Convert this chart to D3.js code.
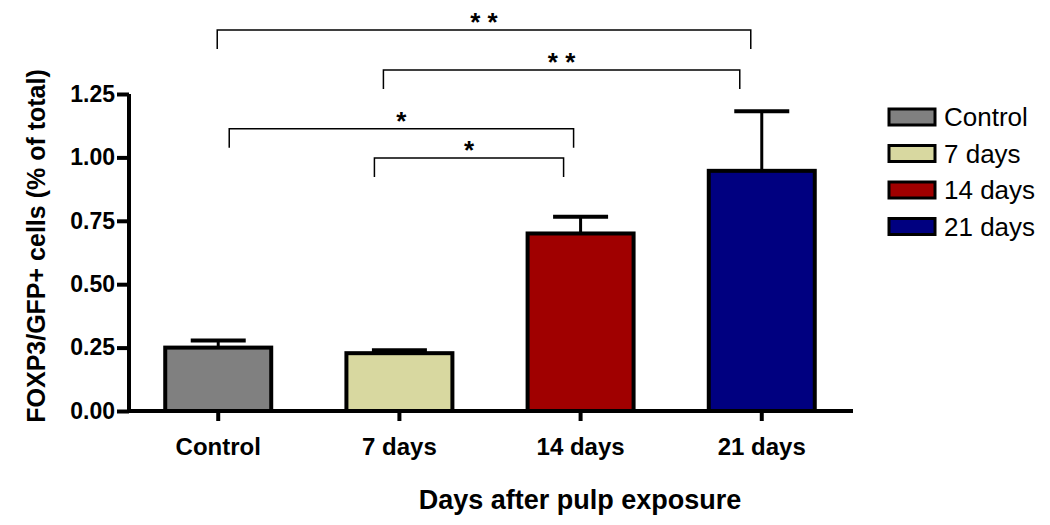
<!DOCTYPE html>
<html>
<head>
<meta charset="utf-8">
<script src="https://cdn.jsdelivr.net/npm/d3@7"></script>
<style>
  body { margin: 0; background: #fff; }
  text { font-family: Arial, "Liberation Sans", sans-serif; }
</style>
</head>
<body>
<svg id="chart"></svg>
<script>
// data
const groups = ['Control', '7 days', '14 days', '21 days']
const means = [0.25, 0.228, 0.70, 0.947]
const errs = [0.028, 0.012, 0.066, 0.235]
const colors = ['#808080', '#d8d8a0', '#a00000', '#000080']
const yTicks = [0, 0.25, 0.5, 0.75, 1.0, 1.25]
// significance brackets: from, to, level (data units), label
const bracketFrom = ['Control', '7 days', 'Control', '7 days']
const bracketTo = ['21 days', '21 days', '14 days', '14 days']
const bracketLevel = [1.502, 1.345, 1.113, 0.998]
const bracketLabel = ['* *', '* *', '*', '*']
// small horizontal offsets of bracket ends from bar centres
const bracketOff = [[-1, -11], [-16, -22], [11, -7], [-25, -17]]

const width = 1050, height = 525
const svg = d3.select('#chart').attr('width', width).attr('height', height)

const x = d3.scaleBand()
  .domain(groups)
  .range([129, 851])
  .paddingInner(0.415)
  .paddingOuter(0.2)
const y = d3.scaleLinear().domain([0, 1.25]).range([411, 94])

const cx = g => x(g) + x.bandwidth() / 2

// bars
svg.selectAll('.bar')
  .data(groups)
  .enter()
  .append('rect')
  .attr('class', 'bar')
  .attr('x', d => x(d))
  .attr('y', (d, i) => y(means[i]))
  .attr('width', x.bandwidth())
  .attr('height', (d, i) => y(0) - y(means[i]))
  .attr('fill', (d, i) => colors[i])
  .attr('stroke', '#000')
  .attr('stroke-width', 4)

// error bars (upper only)
const capW = 55
groups.forEach((g, i) => {
  svg.append('line')
    .attr('x1', cx(g)).attr('x2', cx(g))
    .attr('y1', y(means[i])).attr('y2', y(means[i] + errs[i]))
    .attr('stroke', '#000').attr('stroke-width', 3)
  svg.append('line')
    .attr('x1', cx(g) - capW / 2).attr('x2', cx(g) + capW / 2)
    .attr('y1', y(means[i] + errs[i])).attr('y2', y(means[i] + errs[i]))
    .attr('stroke', '#000').attr('stroke-width', 4)
})

// y axis
const yAxis = svg.append('g')
  .attr('transform', 'translate(129,0)')
  .call(d3.axisLeft(y).tickValues(yTicks).tickFormat(d3.format('.2f')).tickSize(12).tickPadding(2))
yAxis.select('.domain').attr('stroke-width', 4).attr('d', `M0,${y(1.25)}V${y(0)}`)
yAxis.selectAll('.tick line').attr('stroke-width', 4)
yAxis.selectAll('.tick text')
  .attr('font-size', 23).attr('font-weight', 'bold').attr('fill', '#000')
  .attr('font-family', 'Arial, "Liberation Sans", sans-serif')

// x axis
const xAxis = svg.append('g')
  .attr('transform', `translate(0,${y(0)})`)
  .call(d3.axisBottom(x).tickSize(10).tickPadding(17))
xAxis.select('.domain').attr('stroke-width', 4).attr('d', 'M127,0H853')
xAxis.selectAll('.tick line').attr('stroke-width', 4)
xAxis.selectAll('.tick text')
  .attr('font-size', 24).attr('font-weight', 'bold').attr('fill', '#000')
  .attr('font-family', 'Arial, "Liberation Sans", sans-serif')

// axis titles
svg.append('text')
  .attr('x', 580).attr('y', 509)
  .attr('text-anchor', 'middle')
  .attr('font-size', 27).attr('font-weight', 'bold')
  .text('Days after pulp exposure')
svg.append('text')
  .attr('transform', 'translate(45,246) rotate(-90)')
  .attr('text-anchor', 'middle')
  .attr('font-size', 25).attr('font-weight', 'bold')
  .text('FOXP3/GFP+ cells (% of total)')

// brackets
bracketFrom.forEach((f, i) => {
  const x1 = cx(f) + bracketOff[i][0]
  const x2 = cx(bracketTo[i]) + bracketOff[i][1]
  const yl = y(bracketLevel[i])
  svg.append('path')
    .attr('d', `M${x1},${yl + 19}V${yl}H${x2}V${yl + 19}`)
    .attr('fill', 'none').attr('stroke', '#000').attr('stroke-width', 1.5)
  svg.append('text')
    .attr('x', (x1 + x2) / 2).attr('y', yl + 1)
    .attr('text-anchor', 'middle')
    .attr('font-size', 26).attr('font-weight', 'bold')
    .text(bracketLabel[i])
})

// legend
const legend = svg.append('g').attr('transform', 'translate(889,0)')
groups.forEach((g, i) => {
  const ly = 117 + i * 36.5
  legend.append('rect')
    .attr('x', 0).attr('y', ly - 8)
    .attr('width', 46).attr('height', 16)
    .attr('fill', colors[i]).attr('stroke', '#000').attr('stroke-width', 3)
  legend.append('text')
    .attr('x', 55).attr('y', ly + 9)
    .attr('font-size', 26)
    .text(g)
})
</script>
</body>
</html>
